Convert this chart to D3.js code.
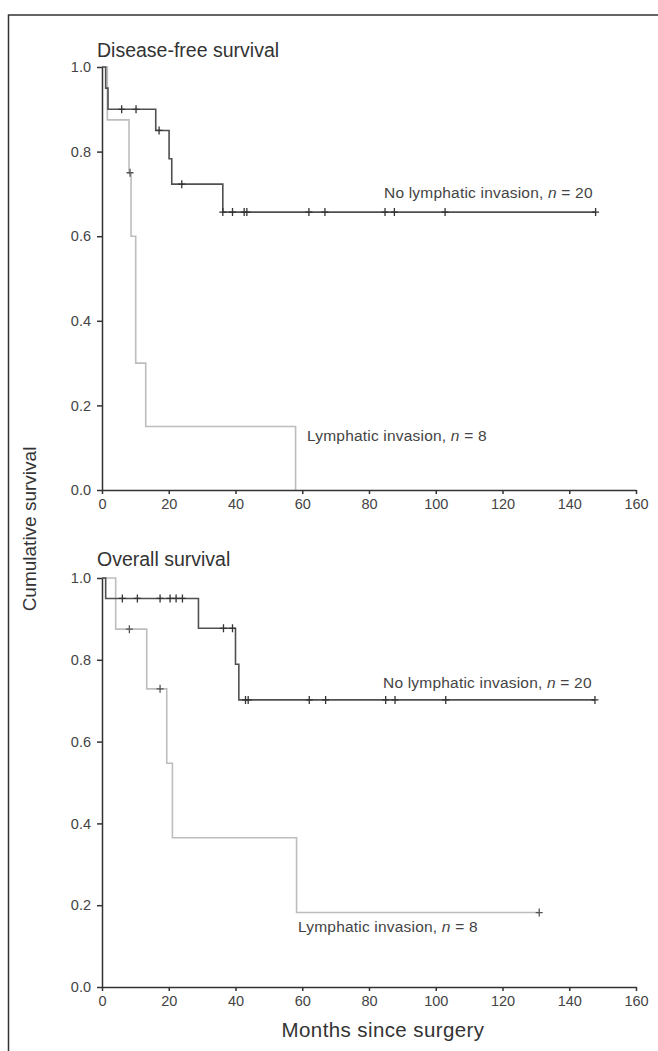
<!DOCTYPE html>
<html>
<head>
<meta charset="utf-8">
<script src="https://cdn.jsdelivr.net/npm/d3@7"></script>
<style>
  body { margin: 0; background: #fff; }
  svg { display: block; font-family: "Liberation Sans", Arial, sans-serif; }
  .axis path, .axis line { stroke: #333; stroke-width: 1.5; }
  .axis text { fill: #444; font-size: 14.5px; font-family: "Liberation Sans", Arial, sans-serif; }
</style>
</head>
<body>
<div id="chart"></div>
<script>
// ticks
var xTicks = [0, 20, 40, 60, 80, 100, 120, 140, 160];
var yTicks = [0, 0.2, 0.4, 0.6, 0.8, 1.0];

// disease-free survival: step points [month, survival] and censor months
var dfsNoInvasion = [[0, 1], [1.1, 0.95], [1.8, 0.90], [16.1, 0.85], [20.1, 0.783], [20.9, 0.723], [36.2, 0.657], [147.9, 0.657]];
var dfsNoInvasionCensor = [5.9, 10.2, 17.1, 23.9, 36.2, 39.1, 42.6, 43.4, 62.0, 66.8, 84.8, 87.6, 102.8, 147.9];
var dfsInvasion = [[0, 1], [1.6, 0.875], [8.1, 0.75], [8.7, 0.60], [10.1, 0.30], [13.1, 0.15], [58.0, 0], [58.0, 0]];
var dfsInvasionCensor = [8.4];

// overall survival
var osNoInvasion = [[0, 1], [1.1, 0.95], [28.9, 0.877], [40.0, 0.789], [41.0, 0.702], [147.7, 0.702]];
var osNoInvasionCensor = [6.1, 10.6, 17.4, 20.4, 22.2, 24.1, 36.4, 39.1, 43.0, 43.8, 62.1, 67.0, 85.0, 87.8, 103.0, 147.7];
var osInvasion = [[0, 1], [4.1, 0.875], [13.4, 0.729], [19.4, 0.547], [21.1, 0.365], [58.3, 0.182], [131, 0.182]];
var osInvasionCensor = [8.2, 17.4, 131];

var width = 658, height = 1051;

var svg = d3.select("#chart")
  .append("svg")
    .attr("width", width)
    .attr("height", height);

// frame lines top and left
svg.append("path")
  .attr("d", "M8.5," + height + "V15H" + width)
  .attr("fill", "none")
  .attr("stroke", "#333")
  .attr("stroke-width", 1.5);

var x = d3.scaleLinear().domain([0, 160]).range([102, 636]);

var panels = [
  {title: "Disease-free survival", top: 67, bottom: 490, titleY: 57,
   dark: dfsNoInvasion, darkCensor: dfsNoInvasionCensor,
   light: dfsInvasion, lightCensor: dfsInvasionCensor,
   darkLabel: {x: 384, y: 198}, lightLabel: {x: 307, y: 441}},
  {title: "Overall survival", top: 578, bottom: 987, titleY: 566,
   dark: osNoInvasion, darkCensor: osNoInvasionCensor,
   light: osInvasion, lightCensor: osInvasionCensor,
   darkLabel: {x: 383, y: 688}, lightLabel: {x: 298, y: 932}}
];

function survivalAt(steps, t) {
  var times = steps.map(function(d) { return d[0]; });
  var i = d3.bisectRight(times, t) - 1;
  return steps[Math.max(i, 0)][1];
}

function addLabel(g, pos, text) {
  var t = g.append("text")
    .attr("x", pos.x)
    .attr("y", pos.y)
    .attr("font-size", 15.5)
    .attr("letter-spacing", 0.2)
    .attr("fill", "#444");
  t.append("tspan").text(text + ", ");
  t.append("tspan").attr("font-style", "italic").text("n");
  return t;
}

panels.forEach(function(p) {
  var y = d3.scaleLinear().domain([0, 1]).range([p.bottom, p.top]);
  var g = svg.append("g");

  g.append("text")
    .attr("x", 97)
    .attr("y", p.titleY)
    .attr("font-size", 19.5)
    .attr("fill", "#333")
    .text(p.title);

  var line = d3.line()
    .curve(d3.curveStepAfter)
    .x(function(d) { return x(d[0]); })
    .y(function(d) { return y(d[1]); });

  g.append("path")
    .datum(p.light)
    .attr("d", line)
    .attr("fill", "none")
    .attr("stroke", "#bdbdbd")
    .attr("stroke-width", 1.6);

  g.append("path")
    .datum(p.dark)
    .attr("d", line)
    .attr("fill", "none")
    .attr("stroke", "#505050")
    .attr("stroke-width", 1.6);

  // censor marks
  var series = [{steps: p.light, censor: p.lightCensor, color: "#555"},
                {steps: p.dark, censor: p.darkCensor, color: "#333"}];
  series.forEach(function(s) {
    g.selectAll(null)
      .data(s.censor)
      .enter()
        .append("path")
          .attr("d", function(d) {
            var cx = x(d), cy = y(survivalAt(s.steps, d));
            return "M" + cx + "," + (cy - 4) + "V" + (cy + 4) +
                   "M" + (cx - 3.5) + "," + cy + "H" + (cx + 3.5);
          })
          .attr("stroke", s.color)
          .attr("stroke-width", 1.3)
          .attr("fill", "none");
  });

  g.append("g")
    .attr("class", "axis")
    .attr("transform", "translate(0," + p.bottom + ")")
    .call(d3.axisBottom(x).tickValues(xTicks).tickSize(4).tickPadding(5).tickSizeOuter(0));

  g.append("g")
    .attr("class", "axis")
    .attr("transform", "translate(" + x(0) + ",0)")
    .call(d3.axisLeft(y).tickValues(yTicks).tickSize(5).tickPadding(6)
      .tickSizeOuter(0).tickFormat(d3.format(".1f")));

  var dl = addLabel(g, p.darkLabel, "No lymphatic invasion");
  dl.append("tspan").text(" = 20");
  var ll = addLabel(g, p.lightLabel, "Lymphatic invasion");
  ll.append("tspan").text(" = 8");
});

// shared axis titles
svg.append("text")
  .attr("transform", "translate(36,529) rotate(-90)")
  .attr("text-anchor", "middle")
  .attr("font-size", 19)
  .attr("fill", "#333")
  .text("Cumulative survival");

svg.append("text")
  .attr("x", 383)
  .attr("y", 1037)
  .attr("text-anchor", "middle")
  .attr("font-size", 20.5)
  .attr("letter-spacing", 0.4)
  .attr("fill", "#333")
  .text("Months since surgery");
</script>
</body>
</html>
